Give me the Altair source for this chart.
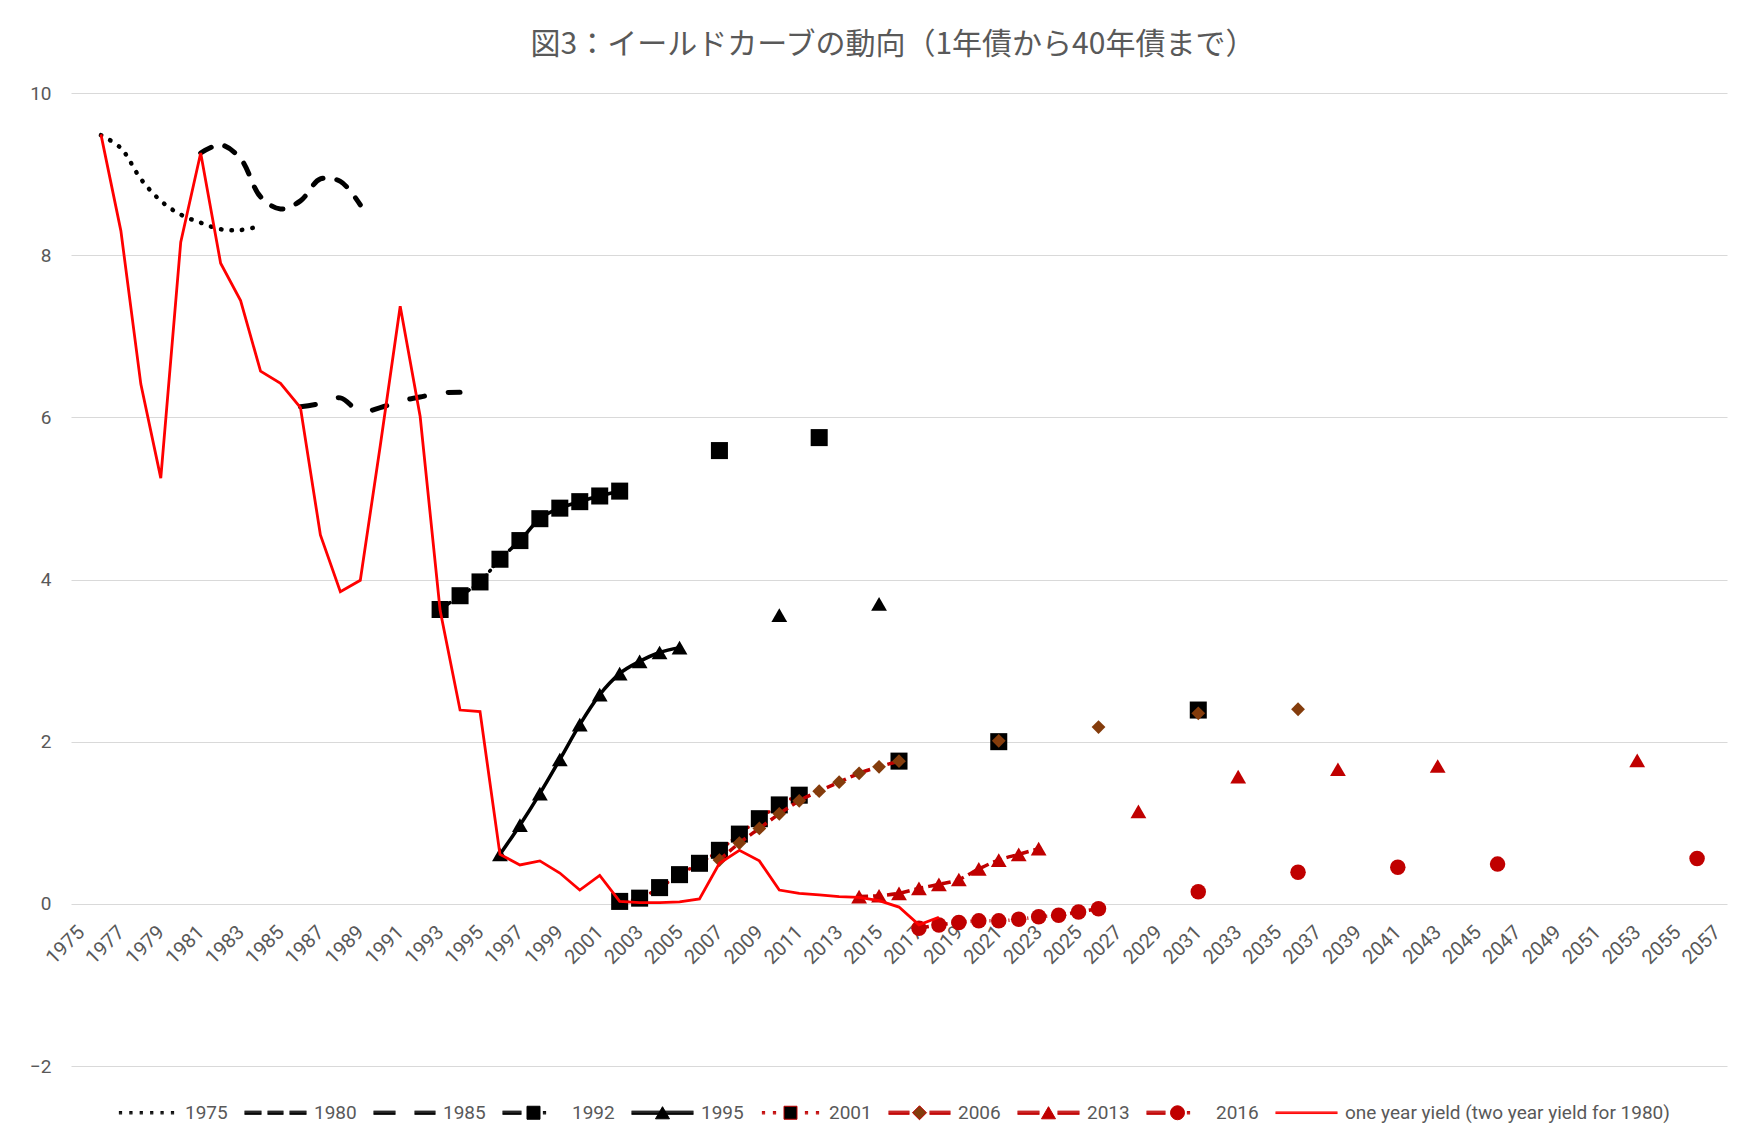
import math
import altair as alt
import pandas as pd

# ---------------- data ----------------
RED = "one year yield (two year yield for 1980)"
SERIES = ["1975", "1980", "1985", "1992", "1995", "2001", "2006", "2013", "2016", RED]

years_1975 = list(range(1976, 1985))
vals_1975 = [9.48, 9.32, 8.94, 8.67, 8.50, 8.40, 8.32, 8.31, 8.36]

years_1980 = list(range(1981, 1990))
vals_1980 = [9.26, 9.36, 9.19, 8.72, 8.57, 8.67, 8.94, 8.91, 8.62]

years_1985 = list(range(1986, 1995))
vals_1985 = [6.13, 6.17, 6.24, 6.07, 6.12, 6.20, 6.25, 6.30, 6.31]

years_1992 = list(range(1993, 2003)) + [2007, 2012]
vals_1992 = [3.63, 3.80, 3.97, 4.25, 4.48, 4.75, 4.88, 4.96, 5.03, 5.09, 5.59, 5.75]

years_1995 = list(range(1996, 2006)) + [2010, 2015]
vals_1995 = [0.61, 0.97, 1.36, 1.78, 2.21, 2.58, 2.84, 2.99, 3.10, 3.16, 3.56, 3.70]

years_2001 = list(range(2002, 2012)) + [2016, 2021, 2031]
vals_2001 = [0.03, 0.07, 0.20, 0.36, 0.50, 0.66, 0.86, 1.05, 1.22, 1.34, 1.76, 2.00, 2.39]

years_2006 = list(range(2007, 2017)) + [2021, 2026, 2031, 2036]
vals_2006 = [0.54, 0.75, 0.93, 1.11, 1.27, 1.39, 1.50, 1.61, 1.69, 1.76, 2.01, 2.18, 2.35, 2.40]

years_2013 = list(range(2014, 2024)) + [2028, 2033, 2038, 2043, 2053]
vals_2013 = [0.09, 0.10, 0.13, 0.19, 0.24, 0.30, 0.43, 0.54, 0.61, 0.68, 1.14, 1.57, 1.66, 1.70, 1.77]

years_2016 = list(range(2017, 2027)) + [2031, 2036, 2041, 2046, 2056]
vals_2016 = [-0.30, -0.26, -0.23, -0.21, -0.21, -0.19, -0.16, -0.14, -0.10, -0.06, 0.15, 0.39, 0.45, 0.49, 0.56]

years_red = list(range(1976, 2019))
vals_red = [9.49, 8.30, 6.41, 5.25, 8.16, 9.26, 7.90, 7.44, 6.57, 6.42,
            6.12, 4.55, 3.85, 3.99, 5.65, 7.37, 6.01, 3.62, 2.39, 2.37,
            0.61, 0.48, 0.53, 0.38, 0.17, 0.35, 0.03, 0.015, 0.015, 0.025,
            0.06, 0.50, 0.66, 0.53, 0.17, 0.13, 0.11, 0.09, 0.08, 0.04,
            -0.04, -0.26, -0.165]

x_tick_years = list(range(1975, 2058, 2))
y_tick_values = [-2, 0, 2, 4, 6, 8, 10]
TITLE = "図3：イールドカーブの動向（1年債から40年債まで）"

series_data = [
    ("1975", years_1975, vals_1975), ("1980", years_1980, vals_1980),
    ("1985", years_1985, vals_1985), ("1992", years_1992, vals_1992),
    ("1995", years_1995, vals_1995), ("2001", years_2001, vals_2001),
    ("2006", years_2006, vals_2006), ("2013", years_2013, vals_2013),
    ("2016", years_2016, vals_2016), (RED, years_red, vals_red),
]

rows = []
for name, yrs, vals in series_data:
    run, prev = 0, None
    for yr, v in zip(yrs, vals):
        if prev is not None and yr != prev + 1:
            run += 1
        rows.append({"series": name, "year": yr, "value": v, "seg": f"{name}-{run}"})
        prev = yr
df = pd.DataFrame(rows)
counts = df.groupby("seg")["year"].transform("count")
df_lines = df[counts >= 2].reset_index(drop=True)

# ---------------- styles ----------------
W, H = 1656, 973
GRAY = "#595959"
FONT = "Roboto"

LINE_STYLES = {
    "1975": dict(color="#000000", strokeWidth=4.5, strokeDash=[0.5, 10], strokeCap="round", interpolate="catmull-rom"),
    "1980": dict(color="#000000", strokeWidth=5, strokeDash=[12, 14], strokeCap="round", interpolate="catmull-rom"),
    "1985": dict(color="#000000", strokeWidth=5, strokeDash=[15, 24], strokeCap="round", interpolate="catmull-rom"),
    "1992": dict(color="#000000", strokeWidth=3.5, strokeDash=[12, 5, 1, 5], strokeCap="round", interpolate="monotone"),
    "1995": dict(color="#000000", strokeWidth=3.5, interpolate="monotone"),
    "2001": dict(color="#C00000", strokeWidth=3.5, strokeDash=[0.5, 6], strokeCap="round", interpolate="monotone"),
    "2006": dict(color="#C00000", strokeWidth=3.5, strokeDash=[8, 5], interpolate="monotone"),
    "2013": dict(color="#C00000", strokeWidth=3.5, strokeDash=[9, 5], interpolate="monotone"),
    "2016": dict(color="#C00000", strokeWidth=3.5, strokeDash=[10, 4, 1, 4], interpolate="monotone"),
    RED: dict(color="#FF0000", strokeWidth=2.8, interpolate="linear"),
}
POINT_STYLES = {
    "1992": ("square", "#000000", 290),
    "1995": ("triangle-up", "#000000", 250),
    "2001": ("square", "#000000", 290),
    "2006": ("diamond", "#843C0C", 190),
    "2013": ("triangle-up", "#C00000", 250),
    "2016": ("circle", "#C00000", 240),
}

# ---------------- legend symbol paths ----------------
U = 32.0
def fm(v):
    return f"{v / U:.4f}"
THICK = [-1.6, -0.8, 0.0, 0.8, 1.6]
THIN = [-0.8, 0.0, 0.8]
def hl(x0, x1, offs):
    return "".join(f"M{fm(x0)},{fm(o)}L{fm(x1)},{fm(o)}" for o in offs)
def dash(x0, x1):
    return hl(x0, x1, THICK)
def dot(cx):
    return hl(cx - 1.6, cx + 1.6, [-1.2, -0.4, 0.4, 1.2])
def poly(pts):
    return "M" + "L".join(f"{fm(x)},{fm(y)}" for x, y in pts) + "Z"
def square(s):
    return poly([(-s / 2, -s / 2), (s / 2, -s / 2), (s / 2, s / 2), (-s / 2, s / 2)])
def tri(w):
    h = w * 0.866
    return poly([(0, -h / 2), (w / 2, h / 2), (-w / 2, h / 2)])
def diamond(w):
    return poly([(-w / 2, 0), (0, -w / 2), (w / 2, 0), (0, w / 2)])
def circ(r):
    return poly([(r * math.cos(2 * math.pi * k / 16), r * math.sin(2 * math.pi * k / 16)) for k in range(16)])

PATHS = [
    "".join(dot(c) for c in [-26, -15.6, -5.2, 5.2, 15.6, 26]),
    dash(-31, -14) + dash(-8, 8) + dash(14, 31),
    dash(-31, -9) + dash(10, 31),
    dash(-31, -12) + square(13) + dot(11),
    dash(-31, 31) + tri(14),
    "".join(dot(c) for c in [-27, -16, 16, 27]) + square(13),
    dash(-31, -10) + dash(10, 31) + diamond(14),
    dash(-31, -9) + dash(9, 31) + tri(14),
    dash(-31, -12) + circ(7) + dot(11),
    hl(-31, 31, THIN),
]
FILLS = ["#000000"] * 6 + ["#843C0C", "#C00000", "#C00000", "#FF0000"]
STROKES = ["#000000"] * 5 + ["#C00000", "#C00000", "#C00000", "#C00000", "#FF0000"]

# ---------------- encodings ----------------
X = alt.X("year:Q",
          scale=alt.Scale(domain=[1974.5, 2057.5], nice=False, zero=False),
          axis=alt.Axis(values=x_tick_years, format="d", labelAngle=-45, labelAlign="right",
                        labelBaseline="middle", labelPadding=25, labelOverlap=False,
                        labelFlush=False, domain=False, ticks=False, grid=False, title=None,
                        offset=-(H * 2 / 12), labelFont=FONT, labelFontSize=20, labelColor=GRAY))
Y = alt.Y("value:Q",
          scale=alt.Scale(domain=[-2, 10], nice=False, zero=False),
          axis=alt.Axis(values=y_tick_values, grid=True, gridColor="#D9D9D9", gridWidth=1.2,
                        domain=False, ticks=False, title=None, labelPadding=20,
                        labelFont=FONT, labelFontSize=19, labelColor=GRAY))

layers = []
for s in SERIES:
    st = LINE_STYLES[s]
    if (df_lines["series"] == s).any():
        layers.append(
            alt.Chart(df_lines).transform_filter(alt.datum.series == s)
            .mark_line(**st).encode(x=X, y=Y, detail="seg:N")
        )
    if s in POINT_STYLES:
        shp, col, sz = POINT_STYLES[s]
        layers.append(
            alt.Chart(df).transform_filter(alt.datum.series == s)
            .mark_point(filled=True, shape=shp, size=sz, color=col, opacity=1, strokeWidth=0)
            .encode(x=X, y=Y)
        )

LEG = alt.Legend(title=None, orient="none", legendX=43, legendY=987,
                 direction="horizontal", columns=10,
                 symbolSize=4096, symbolStrokeWidth=1, symbolOpacity=1,
                 labelFont=FONT, labelFontSize=19, labelColor=GRAY, labelOffset=6,
                 columnPadding=14, labelLimit=600, padding=0)
legend_layer = (
    alt.Chart(df).transform_filter("false")
    .mark_point(filled=True, opacity=1)
    .encode(
        x=X, y=Y,
        fill=alt.Fill("series:N", scale=alt.Scale(domain=SERIES, range=FILLS), legend=LEG),
        stroke=alt.Stroke("series:N", scale=alt.Scale(domain=SERIES, range=STROKES), legend=LEG),
        shape=alt.Shape("series:N", scale=alt.Scale(domain=SERIES, range=PATHS), legend=LEG),
    )
)
layers.append(legend_layer)

chart = (
    alt.layer(*layers)
    .properties(
        width=W, height=H,
        title=alt.TitleParams(TITLE, font="Noto Sans CJK JP", fontSize=30, fontWeight="normal",
                              color=GRAY, anchor="middle", offset=24, dx=-6),
        autosize=alt.AutoSizeParams(type="none"),
        padding={"left": 63, "top": 85, "right": 22, "bottom": 70},
        background="white",
    )
    .configure_view(stroke=None)
)

chart.save("out.html", embed_options={"renderer": "svg", "actions": False})
